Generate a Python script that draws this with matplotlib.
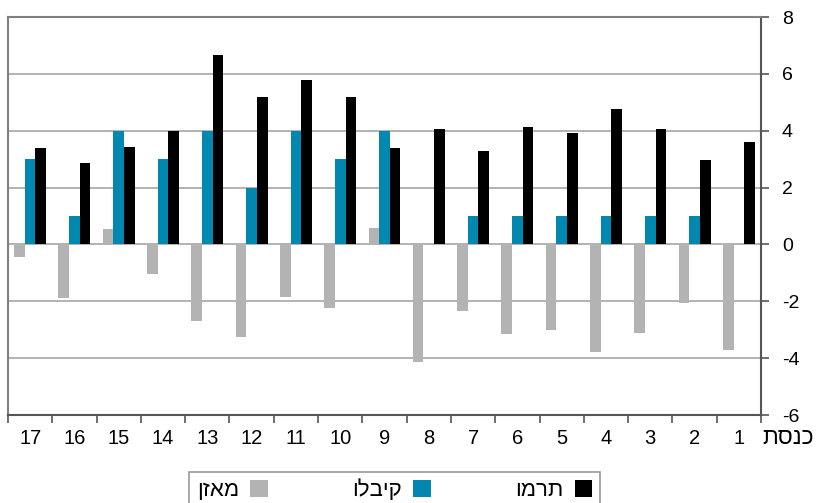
import numpy as np
import matplotlib
matplotlib.use('Agg')
import matplotlib.pyplot as plt

plt.rcParams['font.family'] = ['Liberation Sans', 'DejaVu Sans']

## נתונים לפי כנסת
knesset = [17, 16, 15, 14, 13, 12, 11, 10, 9, 8, 7, 6, 5, 4, 3, 2, 1]
balance = [-0.45, -1.9, 0.55, -1.05, -2.7, -3.25, -1.85, -2.25, 0.58, -4.15,
           -2.35, -3.15, -3.0, -3.8, -3.1, -2.05, -3.7]          # מאזן
received = [3, 1, 4, 3, 4, 2, 4, 3, 4, 0, 1, 1, 1, 1, 1, 1, 0]    # קיבלו
contributed = [3.4, 2.85, 3.43, 3.98, 6.65, 5.2, 5.78, 5.2, 3.4, 4.07,
               3.28, 4.12, 3.93, 4.75, 4.05, 2.98, 3.62]          # תרמו
yticks = [-6, -4, -2, 0, 2, 4, 6, 8]

def heb(s):
    # matplotlib לא הופך כיוון, לכן הופכים את המחרוזת
    return s[::-1]

fig = plt.figure(figsize=(8.23, 5.03), dpi=100)
ax = fig.add_axes([8/823, 1-415/503, (761-8)/823, (415-17)/503])

x = np.arange(len(knesset))
w = 0.24
ax.bar(x - w, balance, w, color='#b3b3b3', label=heb('מאזן'), zorder=3)
ax.bar(x, received, w, color='#0088b1', label=heb('קיבלו'), zorder=3)
ax.bar(x + w, contributed, w, color='black', label=heb('תרמו'), zorder=3)

ax.set_xlim(-0.5, len(knesset) - 0.5)
ax.set_ylim(-6, 8)

## ציר y מימין
ax.yaxis.tick_right()
ax.set_yticks(yticks)
ax.set_yticklabels([str(v) for v in yticks])
ax.tick_params(axis='y', which='major', direction='out', length=6, width=1.2,
               color='#555555', pad=9, labelsize=14)
ax.grid(axis='y', color='#a6a6a6', linewidth=1.2, zorder=0)

## ציר x: קווי הפרדה בין כנסות, תוויות במרכז
ax.set_xticks(np.arange(len(knesset) + 1) - 0.5)
ax.set_xticklabels([])
ax.set_xticks(x, minor=True)
ax.set_xticklabels([str(k) for k in knesset], minor=True)
ax.tick_params(axis='x', which='major', direction='out', length=6, width=1.2,
               color='#555555')
ax.tick_params(axis='x', which='minor', length=0, pad=10, labelsize=14.5)
ax.text(1.002, -0.056, heb('כנסת'), transform=ax.transAxes, fontsize=16.5,
        ha='left', va='center')

for side in ['left', 'top']:
    ax.spines[side].set_color('#808080')
    ax.spines[side].set_linewidth(1.5)
for side in ['right', 'bottom']:
    ax.spines[side].set_color('#555555')
    ax.spines[side].set_linewidth(1.5)

leg = fig.legend(loc='upper center', bbox_to_anchor=(394.5/823, 1-472/503),
                 ncol=3, markerfirst=False, fontsize=16, frameon=True,
                 fancybox=False, edgecolor='#808080', handlelength=0.8,
                 handleheight=0.8, handletextpad=0.5, columnspacing=3.8,
                 borderpad=0.35, borderaxespad=0)
leg.get_frame().set_linewidth(1.2)

plt.savefig('out.png', dpi=100)
